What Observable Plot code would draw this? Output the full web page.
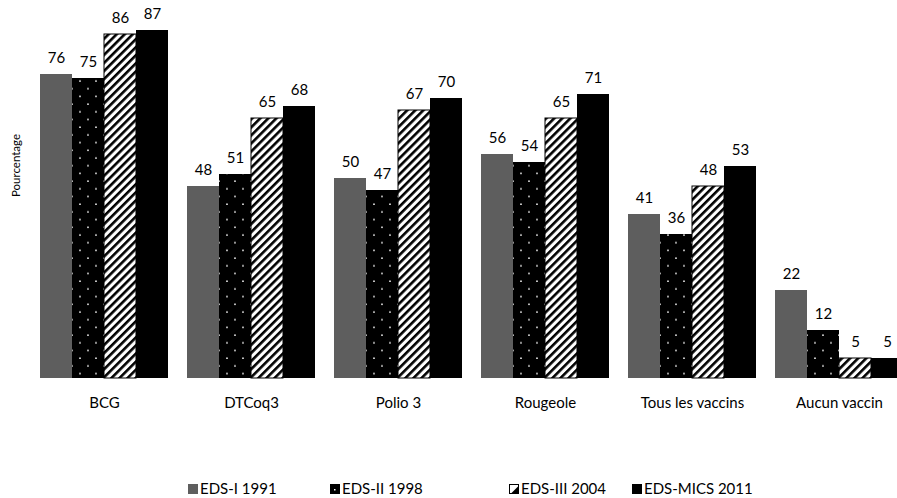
<!DOCTYPE html>
<html>
<head>
<meta charset="utf-8">
<script src="https://cdn.jsdelivr.net/npm/d3@7"></script>
<script src="https://cdn.jsdelivr.net/npm/@observablehq/plot@0.6"></script>
<style>
  body { margin: 0; background: #fff; }
  #wrap { position: relative; width: 897px; height: 498px; overflow: hidden; font-family: Lato, sans-serif; }
  #legend { position: absolute; left: 0; top: 479px; width: 897px; height: 19px; font-size: 15px; color: #000; }
  #legend .item { position: absolute; top: 0; display: flex; align-items: center; white-space: nowrap; line-height: 19px; }
  #legend .item svg { margin-right: 2px; flex: none; }
</style>
</head>
<body>
<div id="wrap"><div id="chart"></div><div id="legend"></div></div>
<script>
// Vaccination coverage by vaccine, four survey rounds (percent)
const categories = ["BCG", "DTCoq3", "Polio 3", "Rougeole", "Tous les vaccins", "Aucun vaccin"];
const surveys = ["EDS-I 1991", "EDS-II 1998", "EDS-III 2004", "EDS-MICS 2011"];
const eds1991 = [76, 48, 50, 56, 41, 22];
const eds1998 = [75, 51, 47, 54, 36, 12];
const eds2004 = [86, 65, 67, 65, 48, 5];
const mics2011 = [87, 68, 70, 71, 53, 5];
const yAxisLabel = "Pourcentage";

const seriesValues = [eds1991, eds1998, eds2004, mics2011];
const fills = ["#5e5e5e", "url(#pat-dots)", "url(#pat-hatch)", "#000"];
const legendLeft = [188, 330, 509, 632];

const rows = categories.flatMap((category, i) =>
  surveys.map((survey, j) => ({category, survey, value: seriesValues[j][i]}))
);

const chart = Plot.plot({
  width: 897,
  height: 470,
  marginTop: 18,
  marginBottom: 92,
  marginLeft: 28,
  marginRight: 0,
  style: {fontFamily: "Lato, sans-serif", fontSize: "15px", color: "#000", background: "#fff"},
  fx: {
    domain: categories,
    range: [28.4, 915.2],
    paddingInner: 0.13,
    paddingOuter: 0.065,
    axis: "bottom",
    tickSize: 0,
    tickPadding: 19,
    label: null
  },
  x: {domain: surveys, padding: 0, axis: null},
  y: {domain: [0, 90], axis: null},
  color: {domain: surveys, range: fills},
  marks: [
    Plot.barY(rows, {fx: "category", x: "survey", y: "value", fill: "survey"}),
    Plot.barY(rows.filter(d => d.survey === surveys[2]), {
      fx: "category", x: "survey", y: "value", fill: "none", stroke: "#000", strokeWidth: 1
    }),
    Plot.text(rows, {fx: "category", x: "survey", y: "value", text: d => String(d.value), dy: -16, fill: "#000"}),
    Plot.text([yAxisLabel], {
      text: d => d, frameAnchor: "left", textAnchor: "middle", rotate: -90, dx: -24, dy: -33,
      fontSize: 11.5, fill: "#000", facet: "super"
    })
  ]
});

// Fill patterns for the 1998 (dots) and 2004 (diagonal hatching) series
const defs = d3.select(chart).insert("defs", ":first-child");
const dots = defs.append("pattern")
  .attr("id", "pat-dots").attr("patternUnits", "userSpaceOnUse")
  .attr("width", 16).attr("height", 15.4);
dots.append("rect").attr("width", 16).attr("height", 15.4).attr("fill", "#000");
dots.append("circle").attr("cx", 4).attr("cy", 4).attr("r", 0.85).attr("fill", "#fff");
dots.append("circle").attr("cx", 12).attr("cy", 11.7).attr("r", 0.85).attr("fill", "#fff");

const hatch = defs.append("pattern")
  .attr("id", "pat-hatch").attr("patternUnits", "userSpaceOnUse")
  .attr("width", 5.7).attr("height", 10).attr("patternTransform", "rotate(45)");
hatch.append("rect").attr("width", 5.7).attr("height", 10).attr("fill", "#fff");
hatch.append("rect").attr("width", 2.6).attr("height", 10).attr("fill", "#000");

document.getElementById("chart").append(chart);

// Legend
const legend = d3.select("#legend");
surveys.forEach((s, i) => {
  const item = legend.append("div").attr("class", "item").style("left", legendLeft[i] + "px");
  const sw = item.append("svg").attr("width", 10).attr("height", 10);
  if (i === 1) {
    sw.append("rect").attr("width", 10).attr("height", 10).attr("fill", "#000");
    sw.append("rect").attr("x", 4).attr("y", 5).attr("width", 1.5).attr("height", 1.5).attr("fill", "#fff");
  } else if (i === 2) {
    sw.append("rect").attr("x", 0.5).attr("y", 0.5).attr("width", 9).attr("height", 9).attr("fill", "#fff").attr("stroke", "#000");
    sw.append("path").attr("d", "M9.5,2 L9.5,9.5 L2,9.5 Z").attr("fill", "#000");
  } else {
    sw.append("rect").attr("width", 10).attr("height", 10).attr("fill", fills[i]);
  }
  item.append("span").text(s);
});
</script>
</body>
</html>
